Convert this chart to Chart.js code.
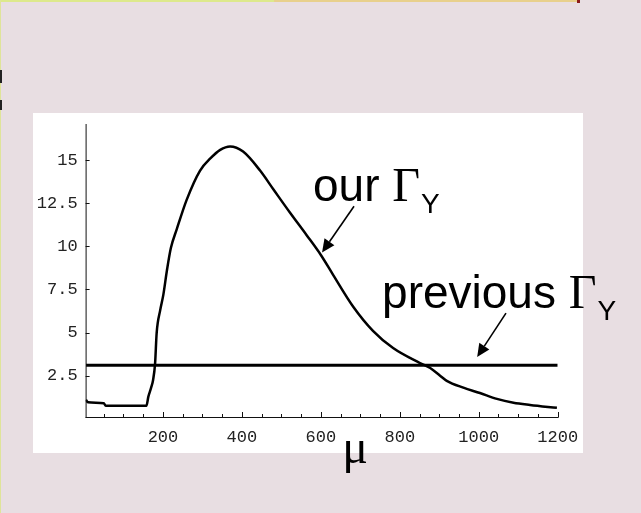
<!DOCTYPE html>
<html>
<head>
<meta charset="utf-8">
<script src="https://cdn.jsdelivr.net/npm/chart.js@4"></script>
<style>
body { margin: 0; background: #e8dee2; width: 641px; height: 513px; overflow: hidden; position: relative; }
#panel { position: absolute; left: 33px; top: 113px; width: 550px; height: 340px; background: #fff; }
#chart { position: absolute; left: 0; top: 0; }
.edge { position: absolute; }
</style>
</head>
<body>
<div class="edge" style="left:0;top:0;width:274px;height:2px;background:#dde98c"></div>
<div class="edge" style="left:274px;top:0;width:303px;height:2px;background:#e8d08c"></div>
<div class="edge" style="left:577px;top:0;width:3px;height:3px;background:#8b1a1a"></div>
<div class="edge" style="left:0;top:0;width:1px;height:513px;background:#dfe49a"></div>
<div class="edge" style="left:0;top:70px;width:2px;height:13px;background:#222"></div>
<div class="edge" style="left:0;top:100px;width:2px;height:10px;background:#222"></div>
<div id="panel"></div>
<canvas id="chart" width="641" height="513"></canvas>
<script>
// our Gamma_Y vs mu
var muValues = [5, 10, 50, 55, 158, 163, 170, 175, 180, 184, 193, 201, 210, 220, 235, 260, 294, 320, 345, 370,
                403, 446, 480, 522, 564, 600, 631, 682, 732, 783, 851, 877, 902, 919, 961, 1003, 1046, 1088, 1130, 1198];
var ourGamma = [1.1, 0.95, 0.9, 0.75, 0.75, 1.28, 1.8, 2.25, 3.2, 4.97, 6.3, 7.2, 8.6, 9.9, 11.0, 12.7, 14.4, 15.1, 15.6, 15.8,
                15.5, 14.4, 13.3, 11.95, 10.65, 9.5, 8.35, 6.5, 5.1, 4.1, 3.23, 2.94, 2.5, 2.2, 1.8, 1.49, 1.15, 0.93, 0.8, 0.63];

// previous Gamma_Y (constant)
var prevMu = [5, 1200];
var prevGamma = [3.1, 3.1];

var xTickLabels = [200, 400, 600, 800, 1000, 1200];
var yTickLabels = [2.5, 5, 7.5, 10, 12.5, 15];

function toPoints(xs, ys) {
    return xs.map(function (x, i) { return { x: x, y: ys[i] }; });
}

function fixSize(w, h) {
    return function (scale) {
        if (w) scale.width = w;
        if (h) scale.height = h;
        scale.paddingLeft = 0;
        scale.paddingRight = 0;
        scale.paddingTop = 0;
        scale.paddingBottom = 0;
    };
}

// Mathematica style axes: plain lines, ticks pointing inwards
var axesPlugin = {
    id: 'mmaAxes',
    afterDatasetsDraw: function (chart) {
        var ctx = chart.ctx;
        var a = chart.chartArea;
        var xs = chart.scales.x;
        var ys = chart.scales.y;
        ctx.save();
        ctx.strokeStyle = '#111';
        ctx.lineWidth = 1;
        ctx.beginPath();
        ctx.moveTo(a.left + 0.5, a.top);
        ctx.lineTo(a.left + 0.5, a.bottom + 1);
        ctx.moveTo(a.left, a.bottom + 0.5);
        ctx.lineTo(a.right + 1, a.bottom + 0.5);
        for (var v = 50; v <= 1200; v += 50) {
            var px = Math.round(xs.getPixelForValue(v)) + 0.5;
            var len = (v % 200 === 0) ? 5 : 3;
            ctx.moveTo(px, a.bottom);
            ctx.lineTo(px, a.bottom - len);
        }
        yTickLabels.forEach(function (t) {
            var py = Math.round(ys.getPixelForValue(t)) + 0.5;
            ctx.moveTo(a.left, py);
            ctx.lineTo(a.left + 4, py);
        });
        ctx.stroke();
        ctx.restore();
    }
};

// text labels and arrows, anchored in data coordinates
var annotations = [
    { text: 'our', at: [580, 12.63], arrowFrom: [684, 12.33], arrowTo: [603, 9.65] },
    { text: 'previous', at: [755, 6.42], arrowFrom: [1069, 6.13], arrowTo: [996, 3.58] }
];
var muLabelAt = [687, -2.56];

var labelPlugin = {
    id: 'labels',
    afterDraw: function (chart) {
        var ctx = chart.ctx;
        var xs = chart.scales.x;
        var ys = chart.scales.y;
        function px(p) { return [xs.getPixelForValue(p[0]), ys.getPixelForValue(p[1])]; }
        ctx.save();
        ctx.fillStyle = '#000';
        ctx.strokeStyle = '#000';
        ctx.textBaseline = 'alphabetic';
        annotations.forEach(function (an) {
            var p = px(an.at);
            ctx.font = '46px "Liberation Sans"';
            ctx.fillText(an.text, p[0], p[1]);
            var w = ctx.measureText(an.text + ' ').width;
            ctx.font = '48px "Liberation Serif"';
            ctx.fillText('\u0393', p[0] + w, p[1]);
            var gw = ctx.measureText('\u0393').width;
            ctx.font = '28px "Liberation Sans"';
            ctx.fillText('Y', p[0] + w + gw + 1, p[1] + 12);

            var f = px(an.arrowFrom);
            var t = px(an.arrowTo);
            var ang = Math.atan2(t[1] - f[1], t[0] - f[0]);
            var hl = 13, hw = 6;
            var bx = t[0] - hl * Math.cos(ang), by = t[1] - hl * Math.sin(ang);
            ctx.lineWidth = 1.6;
            ctx.beginPath();
            ctx.moveTo(f[0], f[1]);
            ctx.lineTo(bx, by);
            ctx.stroke();
            ctx.beginPath();
            ctx.moveTo(t[0], t[1]);
            ctx.lineTo(bx + hw * Math.sin(ang), by - hw * Math.cos(ang));
            ctx.lineTo(bx - hw * Math.sin(ang), by + hw * Math.cos(ang));
            ctx.closePath();
            ctx.fill();
        });
        var m = px(muLabelAt);
        ctx.font = '48px "Liberation Serif"';
        ctx.textAlign = 'center';
        ctx.fillText('\u03bc', m[0], m[1]);
        ctx.restore();
    }
};

var tickFont = { family: '"Liberation Mono", monospace', size: 17 };

var ctx = document.getElementById('chart').getContext('2d');
var chart = new Chart(ctx, {
    type: 'line',
    data: {
        datasets: [
            {
                label: 'our',
                data: toPoints(muValues, ourGamma),
                borderColor: '#000',
                borderWidth: 2.5,
                pointRadius: 0,
                cubicInterpolationMode: 'monotone',
                fill: false
            },
            {
                label: 'previous',
                data: toPoints(prevMu, prevGamma),
                borderColor: '#000',
                borderWidth: 3,
                pointRadius: 0,
                fill: false
            }
        ]
    },
    options: {
        responsive: false,
        animation: false,
        layout: { padding: { left: 25.6, right: 83.3, top: 124, bottom: 66 } },
        plugins: {
            legend: { display: false },
            tooltip: { enabled: false }
        },
        scales: {
            x: {
                type: 'linear',
                min: 4,
                max: 1200,
                border: { display: false },
                grid: { display: false, drawTicks: false },
                afterBuildTicks: function (scale) {
                    scale.ticks = xTickLabels.map(function (v) { return { value: v }; });
                },
                afterFit: fixSize(null, 30),
                ticks: {
                    color: '#222',
                    font: tickFont,
                    padding: 10,
                    maxRotation: 0,
                    autoSkip: false,
                    callback: function (v) { return String(v); }
                }
            },
            y: {
                type: 'linear',
                min: 0.1,
                max: 17.1,
                border: { display: false },
                grid: { display: false, drawTicks: false },
                afterBuildTicks: function (scale) {
                    scale.ticks = yTickLabels.map(function (v) { return { value: v }; });
                },
                afterFit: fixSize(60, null),
                ticks: {
                    color: '#222',
                    font: tickFont,
                    padding: 8,
                    autoSkip: false,
                    callback: function (v) { return String(v); }
                }
            }
        }
    },
    plugins: [axesPlugin, labelPlugin]
});
</script>
</body>
</html>
